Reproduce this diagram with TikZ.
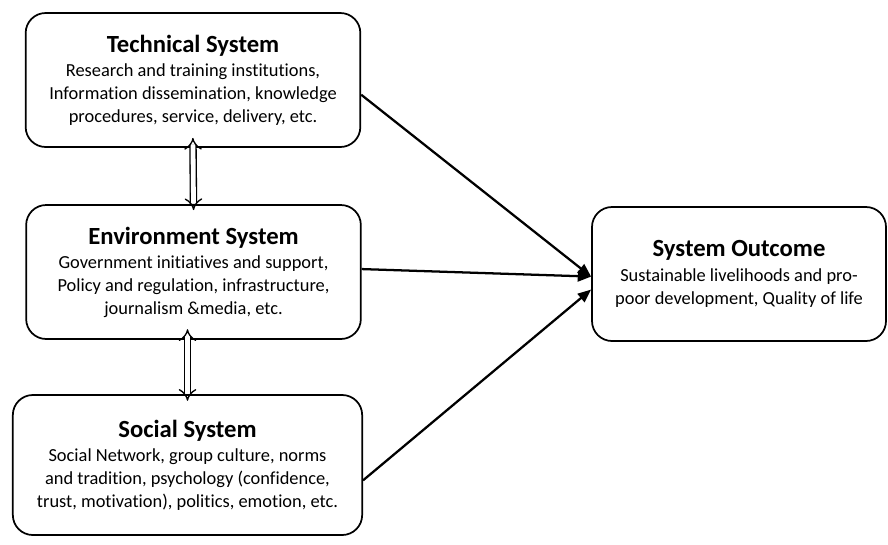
\documentclass[tikz,border=0pt]{standalone}
\usepackage{fontspec}
\setmainfont{Carlito}[Ligatures=NoCommon]
\usetikzlibrary{arrows.meta}
\newcommand{\systitle}[1]{{\fontsize{18.5}{20}\selectfont\bfseries #1}\\[1.5pt]}

\begin{document}
\begin{tikzpicture}[x=0.75pt, y=-0.75pt,
		sysbox/.style={draw, line width=1.3pt, rounded corners=15pt, align=center,
			minimum width=251pt, minimum height=100.5pt, inner sep=0pt,
			font=\fontsize{13.8}{17}\selectfont},
		feedarrow/.style={line width=1.7pt, -{Triangle[length=10pt, width=8pt]}},
		linkarrow/.style={double, double distance=3.6pt, line width=1pt,
			{Implies[length=6.5pt, width=13pt]}-{Implies[length=6.5pt, width=13pt]}}]
			%%%%% START %%%%%
			
			\useasboundingbox (0, 0) rectangle (888, 544);
			
			\node[sysbox] (tech) at (193, 80) {\systitle{Technical System}
				Research and training institutions,\\
				Information dissemination, knowledge\\
				procedures, service, delivery, etc.};
			
			\node[sysbox] (env) at (193.5, 272) {\systitle{Environment System}
				Government initiatives and support,\\
				Policy and regulation, infrastructure,\\
				journalism \&media, etc.};
			
			\node[sysbox, minimum width=262pt, minimum height=105pt] (social) at (187.5, 465) {\systitle{Social System}
				Social Network, group culture, norms\\
				and tradition, psychology (confidence,\\
				trust, motivation), politics, emotion, etc.};
			
			\node[sysbox, minimum width=220.5pt] (outcome) at (739, 274) {\systitle{System Outcome}
				Sustainable livelihoods and pro-\\
				poor development, Quality of life};
			
			\draw[linkarrow, shorten <=-7.5pt, shorten >=-4.5pt] (tech.south) -- (env.north);
			\draw[linkarrow, shorten <=-8pt, shorten >=-5pt] (social.north |- env.south) -- (social.north);
			
			\draw[feedarrow] (tech.-5) -- (outcome.181);
			\draw[feedarrow] (env.1) -- (outcome.181);
			\draw[feedarrow] (social.-5) -- (outcome.186);
			
			%%%%% END %%%%%
\end{tikzpicture}
\end{document}
